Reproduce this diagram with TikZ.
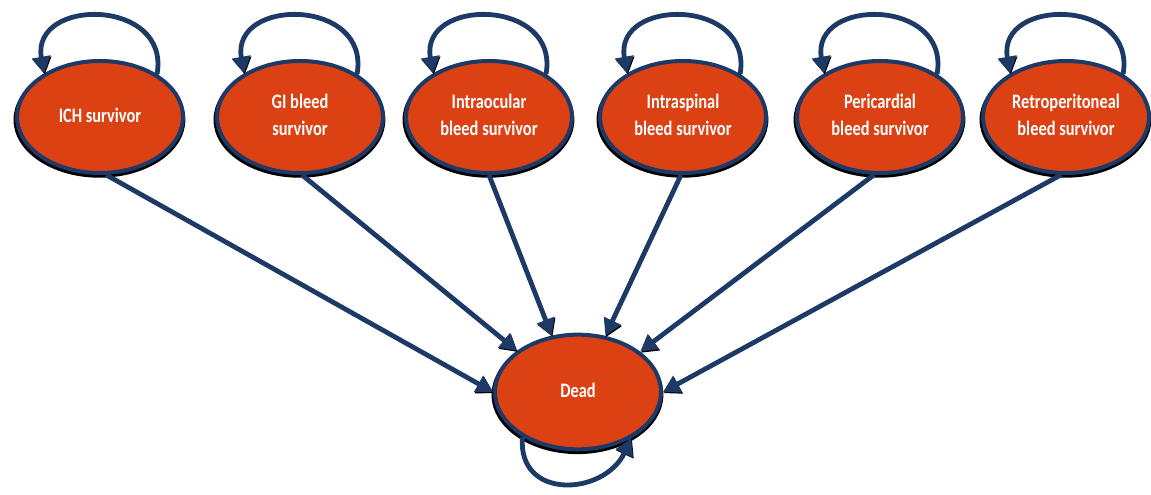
\documentclass[tikz,border=0pt]{standalone}
\usepackage{fontspec}
\usepackage{graphicx}
\setmainfont{Carlito}
\usetikzlibrary{arrows.meta,shapes.geometric,shadows}
\definecolor{navy}{HTML}{1D3A66}
\definecolor{bleedred}{HTML}{DC4114}
% taller lettering for the state labels
\newcommand{\tallbox}[1]{\scalebox{1}[1.25]{\begin{tabular}{@{}c@{}}#1\end{tabular}}}

\begin{document}
\begin{tikzpicture}[x=0.75pt,y=0.75pt,
  bleed/.style={ellipse, draw=navy, line width=3pt, fill=bleedred,
    minimum width=124.5pt, minimum height=84pt, inner sep=0pt,
    text=white, align=center, font=\fontsize{12.3}{16}\selectfont\bfseries,
    general shadow={fill=black, shadow scale=1.035, shadow xshift=-0.4pt, shadow yshift=-2pt}},
  flow/.style={draw=navy, line width=3.6pt,
    -{Triangle[length=12.5pt,width=13.5pt]},
    preaction={draw=black, transform canvas={shift={(0.6pt,-0.9pt)}}}}]
  \useasboundingbox (0,0) rectangle (1151,495);

  % survivor states along the top
  \foreach \n/\x/\txt in {ich/100/{ICH survivor}, gi/300/{GI bleed\\survivor},
      ioc/489/{Intraocular\\bleed survivor}, isp/683/{Intraspinal\\bleed survivor},
      peri/880/{Pericardial\\bleed survivor}, retro/1066/{Retroperitoneal\\bleed survivor}}{
    \node[bleed] (\n) at (\x,378) {\tallbox{\txt}};
  }
  \node[bleed, minimum height=86pt] (dead) at (578,103) {\tallbox{Dead}};

  % staying in the same state
  \foreach \n in {ich,gi,ioc,isp,peri,retro}{
    \draw[flow] (\n.37) to[out=80,in=100,looseness=1.75] (\n.142);
  }
  \draw[flow] (dead.219) to[out=-95,in=-115,looseness=1.5] (dead.319);

  % moving to dead
  \foreach \n/\s/\e in {ich/-84/180, gi/-88/146, ioc/-90/115,
      isp/-92/64, peri/-96/33, retro/-95/0}{
    \draw[flow] (\n.\s) -- (dead.\e);
  }
\end{tikzpicture}
\end{document}
